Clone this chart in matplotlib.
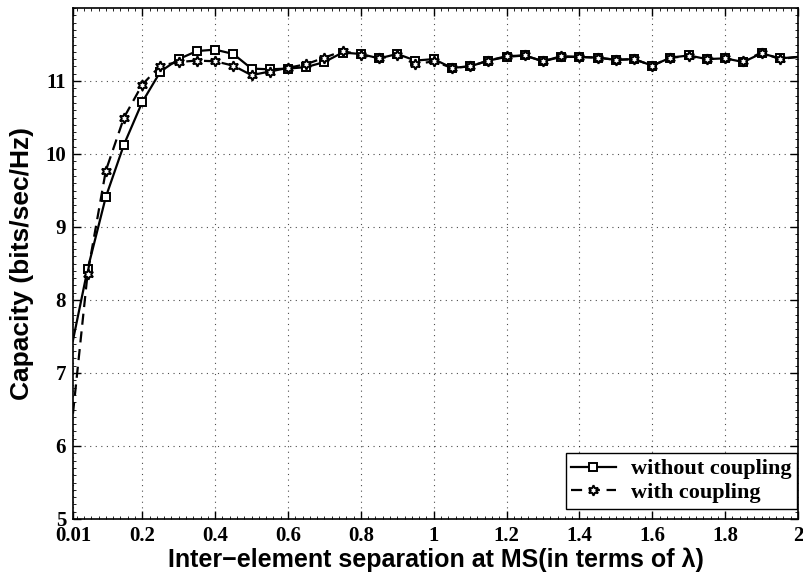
import numpy as np
import matplotlib
matplotlib.use("Agg")
import matplotlib.pyplot as plt
from matplotlib.ticker import MultipleLocator

# separation values (in wavelengths)
sep = [0.01, 0.05, 0.10, 0.15, 0.20, 0.25, 0.30, 0.35, 0.40, 0.45,
       0.50, 0.55, 0.60, 0.65, 0.70, 0.75, 0.80, 0.85, 0.90, 0.95,
       1.00, 1.05, 1.10, 1.15, 1.20, 1.25, 1.30, 1.35, 1.40, 1.45,
       1.50, 1.55, 1.60, 1.65, 1.70, 1.75, 1.80, 1.85, 1.90, 1.95, 2.00]

# capacity without coupling
cap_nocpl = [7.45, 8.42, 9.41, 10.13, 10.71, 11.13, 11.30, 11.41, 11.43, 11.37,
             11.17, 11.16, 11.17, 11.19, 11.26, 11.39, 11.37, 11.31, 11.37, 11.28,
             11.30, 11.18, 11.20, 11.28, 11.33, 11.35, 11.27, 11.33, 11.33, 11.32,
             11.29, 11.30, 11.21, 11.32, 11.35, 11.30, 11.31, 11.26, 11.38, 11.31, 11.33]

# capacity with coupling
cap_cpl = [6.45, 8.36, 9.77, 10.50, 10.95, 11.21, 11.26, 11.28, 11.27, 11.21,
           11.08, 11.13, 11.18, 11.23, 11.32, 11.41, 11.36, 11.31, 11.35, 11.23,
           11.27, 11.18, 11.20, 11.28, 11.34, 11.35, 11.27, 11.34, 11.33, 11.32,
           11.29, 11.30, 11.21, 11.32, 11.34, 11.30, 11.31, 11.27, 11.39, 11.30, 11.33]

xticks = [0.01, 0.2, 0.4, 0.6, 0.8, 1, 1.2, 1.4, 1.6, 1.8, 2]
xticklabels = ["0.01", "0.2", "0.4", "0.6", "0.8", "1", "1.2", "1.4", "1.6", "1.8", "2"]
yticks = [5, 6, 7, 8, 9, 10, 11]

fig = plt.figure(figsize=(8.04, 5.81), dpi=100)
ax = fig.add_axes([73 / 804, 1 - 519 / 581, 725 / 804, 511 / 581])

hexagram = (6, 1, 0)
mk = list(range(1, len(sep) - 1))

ax.plot(sep, cap_nocpl, "-", color="black", lw=1.6, marker="s", ms=6,
        mfc="white", mec="black", mew=1.4, markevery=mk, label="without coupling")
ax.plot(sep, cap_cpl, "--", color="black", lw=1.6, marker=hexagram, ms=7.5,
        mfc="white", mec="black", mew=1.4, markevery=mk, dashes=(5, 3),
        label="with coupling")

ax.set_xlim(0.01, 2)
ax.set_ylim(5, 12)
ax.set_xticks(xticks)
ax.set_xticklabels(xticklabels)
ax.set_yticks(yticks)
ax.xaxis.set_minor_locator(MultipleLocator(0.02))
ax.yaxis.set_minor_locator(MultipleLocator(0.1))

ax.grid(True, which="major", linestyle=(0, (1, 4)), color="black", lw=0.8, alpha=0.7)
ax.tick_params(which="both", direction="in", top=True, right=True)
ax.tick_params(which="major", length=6, width=1, pad=5)
ax.tick_params(which="minor", length=2.5, width=0.6)
for sp in ax.spines.values():
    sp.set_linewidth(1.2)

for lab in ax.get_xticklabels() + ax.get_yticklabels():
    lab.set_fontfamily("Liberation Serif")
    lab.set_fontweight("bold")
    lab.set_fontsize(15)

ax.set_xlabel("Inter\u2212element separation at MS(in terms of \u03bb)",
              family="Liberation Sans", fontweight="bold", fontsize=18, labelpad=1)
ax.set_ylabel("Capacity (bits/sec/Hz)",
              family="Liberation Sans", fontweight="bold", fontsize=19, labelpad=8)

leg = ax.legend(loc="lower right", prop={"family": "Liberation Serif", "weight": "bold", "size": 16},
                fancybox=False, edgecolor="black", framealpha=1,
                bbox_to_anchor=(0.999, 0.02), borderaxespad=0,
                handlelength=2.0, handletextpad=0.7, borderpad=0.25, labelspacing=0.15)
leg.get_frame().set_linewidth(1.0)

fig.savefig("out.png", dpi=100)
